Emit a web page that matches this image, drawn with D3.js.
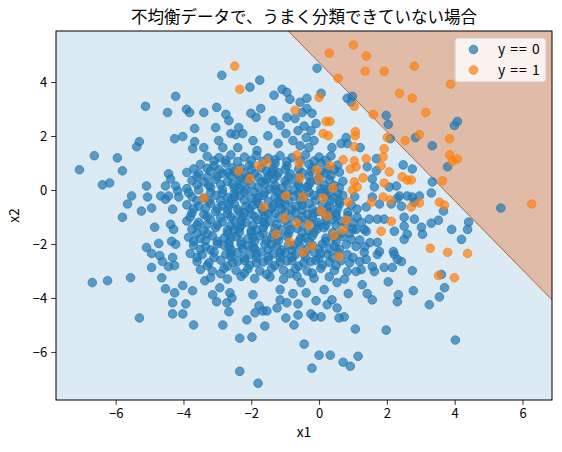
<!DOCTYPE html>
<html>
<head>
<meta charset="utf-8">
<script src="https://cdn.jsdelivr.net/npm/d3@7"></script>
<style>
  body { margin: 0; background: #fff; }
  text { font-family: "Noto Sans CJK JP", sans-serif; }
</style>
</head>
<body>
<div id="chart"></div>
<script>
// class y == 0 (blue)
const class0 = [
  [-5.12,3.10],[-4.23,3.47],[-4.47,2.87],[-5.30,1.79],[-5.38,1.60],[-4.26,1.90],[-6.63,1.27],
  [-2.87,4.25],[-2.04,3.81],[-1.75,4.07],[-1.33,3.51],[-1.09,3.73],[-0.95,3.62],[-0.86,3.36],[-0.56,3.25],
  [-3.91,2.99],[-3.82,2.87],[-3.40,2.87],[-3.02,3.06],[-2.75,2.80],[-2.66,2.57],[-3.05,2.31],[-3.67,2.28],
  [-4.02,1.98],[-2.37,2.31],[-2.60,2.09],[-2.46,2.05],[-2.25,2.09],[-2.01,2.84],[-1.86,2.69],[-1.72,3.02],
  [-1.36,2.57],[-1.15,2.39],[-0.95,2.69],[-0.71,2.65],[-0.50,2.87],[-0.98,2.09],[-0.62,2.20],[-1.51,2.01],
  [-1.95,1.83],[-3.67,1.79],[-2.96,1.83],[-3.40,1.57],[-3.73,1.53],[-2.84,1.57],[-2.40,1.57],[-1.83,1.46],
  [-1.21,1.72],[-0.77,1.83],[-0.56,1.64],
  [-0.06,4.51],[0.06,3.58],[-0.36,3.40],[0.83,3.40],[0.98,3.47],[0.95,3.25],[-0.36,3.02],[-0.21,2.84],
  [1.98,2.76],[2.04,2.43],[-0.09,2.46],[-0.24,2.20],[-0.38,1.94],[0.80,1.94],[0.65,1.72],[0.83,1.72],
  [0.38,1.57],[1.21,1.57],[2.10,1.90],[2.84,1.94],[-0.30,1.57],[-0.44,2.37],[-0.15,1.83],
  [4.08,2.54],[3.99,2.39],[3.34,1.64],
  [3.79,0.86],[3.34,0.30],[3.31,-0.11],[3.67,-0.78],[5.36,-0.67],[3.52,-1.12],[3.31,-1.23],[3.91,-1.46],
  [4.41,-1.19],[4.38,-1.46],[4.20,-1.83],[3.61,-3.13],
  [3.70,-3.62],[3.55,-3.96],[3.25,-4.25],[4.02,-5.56],
  [2.04,-3.40],[2.78,-3.73],[2.34,-3.88],[2.31,-4.14],[1.57,-4.07],[1.42,-3.84],[1.27,-3.51],[0.86,-3.84],
  [0.53,-4.37],[0.74,-4.70],[0.59,-4.74],[0.06,-4.70],[-0.15,-4.70],[-0.24,-4.59],[-0.09,-4.10],[0.24,-4.25],
  [0.38,-4.07],[0.15,-3.69],[-0.38,-3.81],[0.53,-3.43],[1.07,-5.15],[1.98,-5.19],[-0.44,-5.71],[0.0,-6.12],
  [0.33,-6.12],[0.71,-6.38],[0.92,-6.53],[1.15,-6.16],[-0.21,-6.60],
  [-3.73,-3.73],[-3.93,-4.22],[-4.02,-4.59],[-3.70,-5.00],[-2.84,-5.00],[-2.66,-4.51],[-2.13,-4.81],
  [-1.60,-5.04],[-2.34,-5.49],[-1.98,-5.45],[-2.34,-6.72],[-1.80,-7.16],[-0.77,-3.84],[-1.24,-4.37],
  [-0.98,-4.74],[-0.74,-5.00],[-0.62,-4.63],[-1.95,-3.88],[-1.66,-4.48],[-1.89,-4.55],[-3.14,-3.88],
  [-3.02,-4.14],[-2.72,-4.18],[-2.63,-3.81],[-2.57,-4.00],[-4.02,-3.54],[-3.37,-3.36],[-2.93,-3.62],
  [-1.77,-4.29],[-1.54,-4.48],[-1.15,-3.69],[-0.95,-4.18],[-0.62,-4.22],[-1.15,-4.07],[-0.53,-3.43],
  [-6.69,-3.43],[-6.24,-3.36],[-5.56,-3.25],[-5.30,-4.74],[-4.53,-3.66],[-4.26,-3.81],[-4.32,-4.18],
  [-4.32,-4.59],[-4.64,-3.25],
  [-5.95,1.19],[-7.07,0.75],[-5.80,0.71],[-6.39,0.19],[-6.18,0.26],[-5.09,0.15],[-5.53,-0.22],
  [-5.65,-0.52],[-5.06,-0.26],[-5.24,-0.78],[-4.94,-0.67],[-5.80,-1.01],[-4.85,-1.38],[-4.73,-1.98],
  [-5.09,-2.13],[-4.94,-2.35],[-4.70,-2.43],[-4.62,-2.65],[-4.32,-2.50],[-4.44,-2.84],[-4.26,-2.80],
  [-4.94,-2.87],[-4.44,0.60],[-4.38,0.41],[-4.53,0.15],[-4.23,0.15],[-4.67,-0.22],[-4.44,-0.22],
  [-4.53,-0.34],[-4.32,-0.71],[-4.38,-1.27],[-4.29,-1.46],[-4.35,-1.90],[-4.23,-2.01],[-4.17,-0.04],[-4.14,-0.26],
  [2.48,0.93],[2.75,0.78],[2.37,-0.22],[2.60,-0.22],[2.96,-0.22],[2.31,-0.30],[1.63,0.11],[1.57,-0.26],
  [1.78,-0.52],[1.39,-0.63],[1.12,-0.71],[1.48,-1.08],[1.72,-1.08],[1.92,-1.08],[2.51,-1.01],[2.81,-1.08],
  [3.02,-1.38],[3.05,-1.64],[2.51,-1.34],[2.60,-1.64],[2.51,-1.83],[2.22,-1.53],[2.19,-2.28],[2.22,-2.39],
  [2.31,-2.57],[2.43,-2.65],[2.75,-2.99],[2.16,-2.87],[1.72,-1.94],[1.78,-2.28],[1.72,-2.39],[1.57,-2.84],
  [1.33,-2.31],[1.09,-2.09],[0.95,-1.83],[0.83,-2.39],[1.24,-2.95],[1.09,-3.02],[0.83,-3.02],[1.39,-2.57],
  [1.09,-1.46],[1.33,-1.46],[1.12,-1.01],[1.39,-1.53],[1.92,-2.87],[1.63,-3.02],[2.28,0.15],[2.07,0.11],
  [1.69,0.71],[1.69,1.16],[1.42,0.86],[1.57,0.41],[2.13,-0.52],[2.43,-0.60],[2.81,-0.45],[2.75,-0.26],
  // dense middle of the cloud
  [-3.3,1.25],[-2.95,1.2],[-2.6,1.3],[-2.2,1.22],[-1.85,1.28],[-1.5,1.18],[-1.15,1.27],[-0.8,1.2],[-0.4,1.3],[0.0,1.22],[0.35,1.26],
  [-3.5,0.95],[-3.1,0.9],[-2.75,1.0],[-2.05,0.92],[-1.3,0.98],[-0.95,0.9],[-0.3,0.96],[0.05,1.0],[0.55,0.92],
  [-3.9,0.65],[-3.55,0.6],[-3.2,0.7],[-2.85,0.62],[-2.5,0.68],[-1.9,0.6],[-1.55,0.7],[-1.2,0.64],[-0.85,0.6],[-0.25,0.68],[0.2,0.62],[0.6,0.66],
  [-3.75,0.35],[-3.4,0.3],[-3.05,0.4],[-2.7,0.32],[-2.35,0.38],[-1.7,0.3],[-1.35,0.4],[-1.0,0.33],[-0.25,0.3],[0.3,0.38],[0.7,0.32],
  [-3.9,0.05],[-3.55,0.0],[-3.2,0.1],[-2.85,0.02],[-2.5,0.08],[-2.15,0.0],[-1.8,0.1],[-1.45,0.03],[-1.1,0.07],[-0.75,0.0],[-0.35,0.1],[0.25,0.03],[0.6,0.08],
  [-3.75,-0.25],[-3.4,-0.3],[-3.05,-0.2],[-2.7,-0.28],[-2.35,-0.22],[-2.0,-0.3],[-1.65,-0.2],[-1.3,-0.27],[-0.75,-0.23],[-0.15,-0.2],[0.45,-0.28],[0.7,-0.2],[1.05,-0.25],
  [-3.9,-0.55],[-3.55,-0.6],[-3.2,-0.5],[-2.85,-0.58],[-2.5,-0.52],[-2.15,-0.6],[-1.8,-0.5],[-1.35,-0.57],[-1.0,-0.52],[-0.7,-0.6],[-0.3,-0.5],[0.3,-0.58],[0.6,-0.52],[0.95,-0.56],
  [-3.75,-0.85],[-3.4,-0.9],[-3.05,-0.8],[-2.7,-0.88],[-2.35,-0.82],[-2.0,-0.9],[-1.65,-0.8],[-1.3,-0.87],[-0.7,-0.83],[-0.35,-0.9],[0.0,-0.8],[0.5,-0.86],[0.85,-0.82],
  [-3.9,-1.15],[-3.55,-1.2],[-3.2,-1.1],[-2.85,-1.18],[-2.5,-1.12],[-2.15,-1.2],[-1.8,-1.1],[-1.45,-1.17],[-0.6,-1.12],[-0.05,-1.2],[0.4,-1.1],[0.65,-1.16],[1.0,-1.22],
  [-3.75,-1.45],[-3.4,-1.5],[-3.05,-1.4],[-2.7,-1.48],[-2.35,-1.42],[-2.0,-1.5],[-1.65,-1.4],[-1.1,-1.47],[-0.65,-1.42],[-0.3,-1.5],[0.15,-1.4],[1.0,-1.45],
  [-3.85,-1.75],[-3.5,-1.8],[-3.15,-1.7],[-2.8,-1.78],[-2.45,-1.72],[-2.1,-1.8],[-1.75,-1.7],[-1.4,-1.77],[-0.95,-1.72],[-0.55,-1.8],[-0.2,-1.7],[0.2,-1.78],[0.7,-1.72],
  [-3.7,-2.05],[-3.35,-2.1],[-3.0,-2.0],[-2.65,-2.08],[-2.3,-2.02],[-1.95,-2.1],[-1.6,-2.0],[-1.25,-2.07],[-0.9,-2.02],[-0.55,-2.1],[0.1,-2.0],[0.45,-2.08],[0.8,-2.02],
  [-3.8,-2.35],[-3.45,-2.4],[-3.1,-2.3],[-2.75,-2.38],[-2.4,-2.32],[-2.05,-2.4],[-1.7,-2.3],[-1.35,-2.37],[-1.0,-2.32],[-0.7,-2.4],[-0.15,-2.3],[0.25,-2.38],[0.55,-2.32],
  [-3.6,-2.65],[-3.25,-2.7],[-2.9,-2.6],[-2.55,-2.68],[-2.2,-2.62],[-1.85,-2.7],[-1.5,-2.6],[-1.15,-2.67],[-0.8,-2.62],[-0.45,-2.7],[-0.1,-2.6],[0.3,-2.68],[0.65,-2.62],
  [-3.5,-2.95],[-3.15,-3.0],[-2.8,-2.9],[-2.45,-2.98],[-2.1,-2.92],[-1.75,-3.0],[-1.4,-2.9],[-1.05,-2.97],[-0.7,-2.92],[-0.35,-3.0],[0.05,-2.9],[0.45,-2.98],
  [-3.2,-3.25],[-2.7,-3.3],[-2.3,-3.2],[-1.9,-3.28],[-1.45,-3.22],[-1.05,-3.3],[-0.65,-3.2],[-0.15,-3.27],[0.3,-3.22],[0.75,-3.3],
  [-2.3,0.8],[-1.7,0.82],[-0.6,0.78],[0.25,0.8],
  [-3.0,0.5],[-2.1,0.48],[-1.5,0.52],[-0.6,0.5],[0.0,0.47],
  [-2.9,0.2],[-2.3,0.18],[-1.6,0.22],[-0.6,0.2],[0.45,0.17],
  [-3.2,-0.1],[-2.5,-0.12],[-1.9,-0.08],[-1.2,-0.1],[-0.6,-0.12],[0.3,-0.1],
  [-2.9,-0.4],[-2.2,-0.38],[-1.5,-0.42],[-0.9,-0.4],[-0.1,-0.38],[0.6,-0.4],
  [-3.0,-0.7],[-2.4,-0.72],[-1.7,-0.68],[-1.1,-0.7],[-0.5,-0.72],[0.25,-0.7],
  [-2.6,-1.0],[-1.9,-0.98],[-1.2,-1.02],[-0.5,-1.0],[0.2,-0.98],
  [-3.0,-1.3],[-2.3,-1.32],[-1.6,-1.28],[-0.9,-1.3],[-0.05,-1.32],[0.5,-1.3],
  [-2.7,-1.6],[-2.0,-1.58],[-1.35,-1.62],[-0.5,-1.6],[0.4,-1.58],
  [-3.0,-1.9],[-2.3,-1.92],[-1.55,-1.88],[-0.3,-1.9],[0.5,-1.92],
  [-2.6,-2.2],[-1.9,-2.18],[-1.1,-2.22],[-0.35,-2.2],[0.3,-2.18],
  [-3.1,-2.5],[-2.2,-2.52],[-1.5,-2.48],[-0.4,-2.5],
  [-3.1,1.08],[-2.75,1.1],[-2.4,1.05],[-2.0,1.1],[-1.65,1.06],[-1.3,1.12],[-0.95,1.05],[-0.55,1.1],[-0.15,1.07],[0.2,1.1],
  [-3.7,0.78],[-3.3,0.8],[-2.95,0.75],[-2.55,0.82],[-2.0,0.76],[-1.35,0.8],[-1.0,0.77],[-0.2,0.82],[0.45,0.76],
  [-3.6,0.5],[-3.3,0.47],[-2.6,0.52],[-2.35,0.5],[-1.8,0.47],[-1.25,0.52],[-0.9,0.48],[-0.3,0.5],[0.35,0.53],
  [-3.6,0.2],[-3.25,0.17],[-2.55,0.22],[-2.0,0.2],[-1.3,0.17],[-0.95,0.22],[-0.3,0.2],[0.15,0.18],
  [-3.85,-0.1],[-2.85,-0.12],[-2.2,-0.08],[-1.6,-0.1],[-0.95,-0.12],[-0.3,-0.08],[0.05,-0.1],[0.55,-0.12],
  [-3.6,-0.4],[-3.25,-0.42],[-2.6,-0.38],[-1.85,-0.4],[-1.2,-0.42],[-0.55,-0.38],[0.35,-0.4],
  [-3.7,-0.7],[-3.35,-0.68],[-2.7,-0.72],[-2.05,-0.7],[-1.4,-0.68],[-0.8,-0.72],[-0.2,-0.7],[0.55,-0.68],
  [-3.8,-1.0],[-3.3,-0.98],[-2.9,-1.02],[-2.25,-1.0],[-1.6,-0.97],[-0.85,-1.02],[-0.2,-1.0],[0.5,-0.98],
  [-3.6,-1.3],[-3.3,-1.28],[-2.6,-1.32],[-1.95,-1.3],[-1.25,-1.28],[-0.5,-1.32],[0.2,-1.3],[0.8,-1.28],
  [-3.6,-1.6],[-3.3,-1.62],[-2.35,-1.58],[-1.65,-1.6],[-0.9,-1.62],[-0.15,-1.58],[0.65,-1.6],
  [-3.7,-1.9],[-3.35,-1.88],[-2.65,-1.92],[-1.9,-1.9],[-1.2,-1.88],[-0.6,-1.92],[0.2,-1.9],
  [-3.5,-2.2],[-3.2,-2.22],[-2.25,-2.18],[-1.5,-2.2],[-0.8,-2.22],[0.0,-2.18],[0.6,-2.2],
  [-3.6,-2.5],[-2.6,-2.48],[-1.85,-2.52],[-1.15,-2.5],[-0.8,-2.48],[0.0,-2.52],[0.4,-2.5],
  [-3.3,-2.8],[-2.7,-2.82],[-2.05,-2.78],[-1.3,-2.8],[-0.6,-2.82],[0.1,-2.78],[0.5,-2.8],
  [-2.9,-3.1],[-2.2,-3.08],[-1.55,-3.12],[-0.85,-3.1],[-0.2,-3.08],
  [-2.7,0.65],[-2.2,0.63],[-1.4,0.67],[-0.5,0.64],[0.05,0.66],
  [-2.1,0.35],[-1.55,0.37],[-0.7,0.33],[-0.05,0.36],
  [-2.35,0.05],[-1.3,0.03],[-0.55,0.07],[0.05,0.04],
  [-2.5,-0.25],[-1.8,-0.27],[-1.1,-0.23],[-0.45,-0.26],[0.2,-0.24],
  [-2.65,-0.55],[-1.95,-0.57],[-1.15,-0.53],[-0.5,-0.56],[0.1,-0.54],
  [-2.2,-0.85],[-1.5,-0.87],[-1.0,-0.83],[-0.15,-0.86],[0.3,-0.84],
  [-2.3,-1.15],[-1.65,-1.17],[-1.0,-1.13],[-0.3,-1.16],[0.2,-1.14],
  [-2.5,-1.45],[-1.85,-1.47],[-1.3,-1.43],[-0.85,-1.46],[-0.05,-1.44],
  [-2.6,-1.75],[-1.95,-1.77],[-1.2,-1.73],[-0.4,-1.76],[0.45,-1.74],
  [-2.8,-2.05],[-2.1,-2.07],[-1.4,-2.03],[-0.75,-2.06],[-0.2,-2.04],
  [-2.6,-2.35],[-1.85,-2.37],[-1.15,-2.33],[-0.45,-2.36],[0.05,-2.34],
  [-2.4,-2.65],[-1.65,-2.67],[-0.95,-2.63],[-0.25,-2.66],
  [0.9,-2.7],[1.0,-2.5],[0.9,-1.6],[1.2,-1.85],[1.35,-2.1],[0.85,-0.95],[1.25,-1.2],[1.5,-1.95],[1.2,-2.65]
];

// class y == 1 (orange)
const class1 = [
  [-2.49,4.59],[-2.34,3.73],[-0.71,2.95],[-0.65,1.30],
  [1.01,5.37],[0.30,5.07],[1.39,4.96],[2.81,4.59],[1.36,4.40],[1.92,4.40],[0.56,4.14],[2.37,3.58],
  [2.75,3.40],[3.15,2.87],[1.60,2.80],[0.0,3.43],[1.04,3.10],[0.21,2.54],[0.32,2.54],[0.27,2.01],
  [0.12,2.09],[1.07,2.16],[1.07,2.01],[2.01,1.94],[2.54,1.83],[2.96,2.05],[1.04,1.60],[1.92,1.53],
  [3.88,3.92],[3.85,1.90],[3.85,1.30],[4.08,1.15],[3.93,1.07],
  [3.64,0.34],[3.55,-0.45],[3.70,-0.56],[6.27,-0.52],[3.28,-2.16],[3.79,-2.31],[4.38,-2.35],[3.52,-3.17],[3.99,-3.25],
  [-2.37,0.71],[-1.78,0.90],[-1.54,1.04],[-2.04,0.41],[-3.40,-0.30],[-1.63,-0.63],[-0.98,-0.22],[-1.01,-1.04],
  [-0.65,-1.23],[-1.27,-1.64],[-0.86,-1.94],[-0.59,0.97],[-0.56,0.45],[-0.47,-0.26],[-0.47,-2.31],
  [0.71,1.12],[1.04,1.08],[1.39,1.16],[1.89,1.23],[1.83,0.90],[2.07,0.67],[-0.06,0.75],[0.33,0.90],
  [0.92,0.78],[1.09,0.86],[0.0,0.41],[1.04,0.30],[1.12,0.11],[0.98,0.0],[1.30,0.45],[0.41,0.07],
  [1.92,0.26],[2.45,0.49],[2.60,0.37],[2.72,0.37],[0.12,-0.30],[0.86,-0.45],[1.54,-0.45],[1.89,-0.26],
  [2.10,-0.37],[2.72,-0.63],[2.96,-0.48],[0.06,-0.78],[0.24,-0.97],[0.80,-1.12],[-0.30,-1.31],[2.13,-1.16],
  [0.44,-1.68],[0.71,-1.49],[1.83,-1.53],[-0.21,-2.09],[0.59,-2.46]
];

// decision line where the predicted class flips, ends on the plot edges
const boundary = [[-0.91, 5.89], [6.87, -4.07]];

const xTicks = [-6, -4, -2, 0, 2, 4, 6];
const yTicks = [-6, -4, -2, 0, 2, 4];
const legendLabels = ["y == 0", "y == 1"];

var W = 562, H = 452;
var pL = 56, pR = 552, pT = 31, pB = 400;

var svg = d3.select("#chart")
  .append("svg")
    .attr("width", W)
    .attr("height", H);

var x = d3.scaleLinear().domain([-7.76, 6.87]).range([pL, pR]);
var y = d3.scaleLinear().domain([-7.78, 5.89]).range([pB, pT]);

svg.append("clipPath").attr("id", "clip")
  .append("rect")
    .attr("x", pL).attr("y", pT)
    .attr("width", pR - pL).attr("height", pB - pT);

var plot = svg.append("g").attr("clip-path", "url(#clip)");

// background regions
plot.append("rect")
  .attr("x", pL).attr("y", pT)
  .attr("width", pR - pL).attr("height", pB - pT)
  .attr("fill", "#dceaf3");

var xd = x.domain(), yd = y.domain();
var region1 = [boundary[0], [xd[1], yd[1]], boundary[1]];
plot.append("path")
  .attr("d", d3.line().x(d => x(d[0])).y(d => y(d[1]))(region1) + "Z")
  .attr("fill", "#e0bca8");

plot.append("line")
  .attr("x1", x(boundary[0][0])).attr("y1", y(boundary[0][1]))
  .attr("x2", x(boundary[1][0])).attr("y2", y(boundary[1][1]))
  .attr("stroke", "#b0623e")
  .attr("stroke-width", 1);

var r = 4.3;
var colors = ["#1f77b4", "#ff7f0e"];
[class0, class1].forEach(function(pts, i) {
  plot.append("g").selectAll("circle").data(pts).enter().append("circle")
    .attr("cx", d => x(d[0])).attr("cy", d => y(d[1]))
    .attr("r", r)
    .attr("fill", colors[i]).attr("fill-opacity", 0.7)
    .attr("stroke", colors[i]).attr("stroke-opacity", 0.7).attr("stroke-width", 1);
});

// axes
var fmt = d3.format("d");
var xAxis = svg.append("g")
  .attr("transform", "translate(0," + pB + ")")
  .call(d3.axisBottom(x).tickValues(xTicks).tickFormat(fmt).tickSize(4.9).tickPadding(4));
var yAxis = svg.append("g")
  .attr("transform", "translate(" + pL + ",0)")
  .call(d3.axisLeft(y).tickValues(yTicks).tickFormat(fmt).tickSize(4.9).tickPadding(4));

[xAxis, yAxis].forEach(function(g) {
  g.select(".domain").remove();
  g.selectAll(".tick line").attr("stroke", "#000").attr("stroke-width", 0.8);
  g.selectAll(".tick text").attr("fill", "#000").style("font-size", "13px")
    .style("font-family", "'Noto Sans CJK JP', sans-serif");
});

svg.append("rect")
  .attr("x", pL).attr("y", pT)
  .attr("width", pR - pL).attr("height", pB - pT)
  .attr("fill", "none").attr("stroke", "#000").attr("stroke-width", 1);

svg.append("text")
  .attr("x", (pL + pR) / 2).attr("y", 437)
  .attr("text-anchor", "middle")
  .style("font-size", "13.9px")
  .text("x1");

svg.append("text")
  .attr("transform", "translate(19," + (pT + pB) / 2 + ") rotate(-90)")
  .attr("text-anchor", "middle")
  .style("font-size", "13.9px")
  .text("x2");

svg.append("text")
  .attr("x", (pL + pR) / 2).attr("y", 23)
  .attr("text-anchor", "middle")
  .style("font-size", "16.5px")
  .text("不均衡データで、うまく分類できていない場合");

// legend
var legend = svg.append("g");
legend.append("rect")
  .attr("x", 455).attr("y", 38).attr("width", 91).attr("height", 44).attr("rx", 3)
  .attr("fill", "#fff").attr("fill-opacity", 0.8)
  .attr("stroke", "#ccc").attr("stroke-width", 1);
legendLabels.forEach(function(lab, i) {
  legend.append("circle")
    .attr("cx", 473.5).attr("cy", 49.5 + i * 20.5).attr("r", r)
    .attr("fill", colors[i]).attr("fill-opacity", 0.7)
    .attr("stroke", colors[i]).attr("stroke-opacity", 0.7).attr("stroke-width", 1);
  legend.append("text")
    .attr("x", 498).attr("y", 49.5 + i * 20.5).attr("dy", "0.35em")
    .style("font-size", "13.9px")
    .style("letter-spacing", "1px")
    .text(lab);
});
</script>
</body>
</html>
